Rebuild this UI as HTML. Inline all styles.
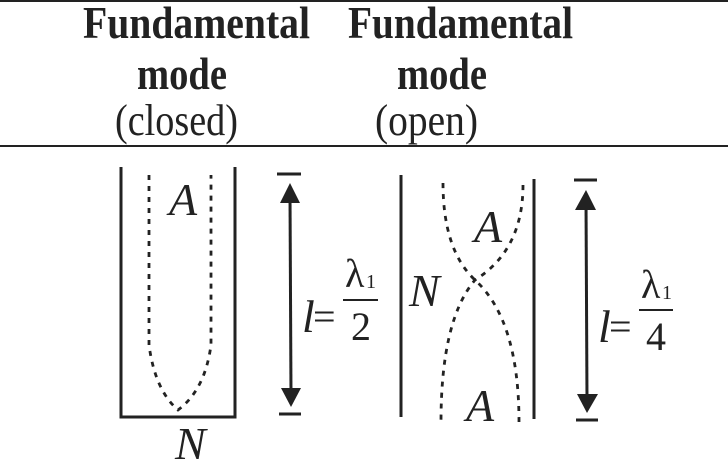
<!DOCTYPE html>
<html><head><style>html,body{margin:0;padding:0;background:#fff}svg{display:block}svg text{font-family:"Liberation Serif","DejaVu Serif",serif}</style></head>
<body>
<svg width="728" height="461" viewBox="0 0 728 461" xmlns="http://www.w3.org/2000/svg" style="font-family:'Liberation Serif',serif" fill="#222">
<line x1="0" y1="1" x2="728" y2="1" stroke="#222" stroke-width="2"/>
<line x1="0" y1="146" x2="728" y2="146" stroke="#222" stroke-width="2"/>
<g font-weight="bold" font-size="46">
<text x="83" y="38" textLength="227" lengthAdjust="spacingAndGlyphs">Fundamental</text>
<text x="348" y="38" textLength="225" lengthAdjust="spacingAndGlyphs">Fundamental</text>
<text x="137" y="89" textLength="90" lengthAdjust="spacingAndGlyphs">mode</text>
<text x="397" y="89" textLength="90" lengthAdjust="spacingAndGlyphs">mode</text>
</g>
<g font-size="44">
<text x="115" y="135" textLength="123" lengthAdjust="spacingAndGlyphs">(closed)</text>
<text x="375" y="135" textLength="103" lengthAdjust="spacingAndGlyphs">(open)</text>
</g>
<g stroke="#222" stroke-width="3" fill="none">
<polyline points="121,167 121,417 235,417 235,167"/>
<line x1="401" y1="175" x2="401" y2="417"/>
<line x1="534" y1="179" x2="534" y2="419"/>
<line x1="277" y1="174" x2="301" y2="174"/>
<line x1="279" y1="414" x2="301" y2="414"/>
<line x1="290" y1="195" x2="291" y2="395"/>
<line x1="574" y1="180" x2="597" y2="180"/>
<line x1="576" y1="420" x2="598" y2="420"/>
<line x1="586" y1="200" x2="587" y2="400"/>
</g>
<polygon points="290,183 280,203 300,203" fill="#222"/>
<polygon points="291,407 281,388 301,388" fill="#222"/>
<polygon points="586,190 575,210 596,210" fill="#222"/>
<polygon points="587,413 577,394 598,394" fill="#222"/>
<g stroke="#222" stroke-width="2.8" fill="none" stroke-dasharray="5,6">
<path d="M149,175 L149,345 Q155,390 178,410 Q205,390 211,345 L211,175"/>
<path d="M443,183 Q443,250 475,280 Q519,320 519,422"/>
<path d="M523,185 Q523,250 475,280 Q441,320 441,422"/>
</g>
<g font-style="italic" font-size="46">
<text x="169" y="215">A</text>
<text x="175" y="459">N</text>
<text x="474" y="242">A</text>
<text x="466" y="421">A</text>
<text x="409" y="306">N</text>
<text x="302" y="332">l</text>
<text x="598" y="342">l</text>
</g>
<g font-size="40">
<text x="313" y="330">=</text>
<text x="609" y="340">=</text>
<text x="345" y="287">λ</text>
<text x="641" y="298">λ</text>
<text x="351" y="340">2</text>
<text x="646" y="350">4</text>
</g>
<g font-size="20"><text x="366" y="288">1</text><text x="662" y="299">1</text></g>
<line x1="343" y1="300" x2="378" y2="300" stroke="#222" stroke-width="2"/>
<line x1="639" y1="310" x2="673" y2="310" stroke="#222" stroke-width="2"/>
</svg>
</body></html>
